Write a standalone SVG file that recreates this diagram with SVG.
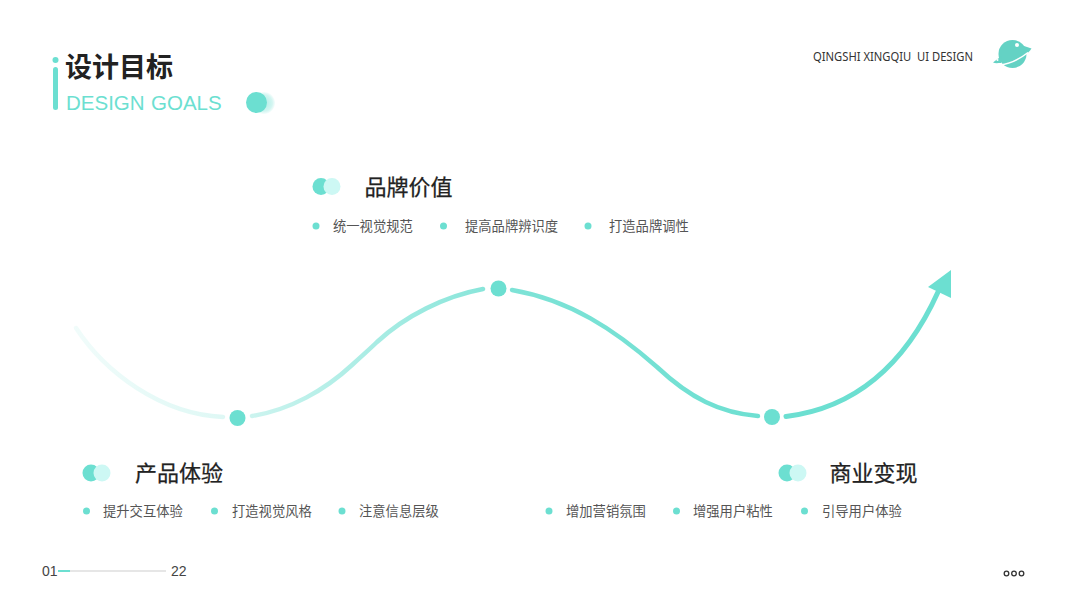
<svg xmlns="http://www.w3.org/2000/svg" width="1067" height="600" viewBox="0 0 1067 600">
<style>
text{font-family:"Noto Sans CJK SC","Noto Sans",sans-serif}
.h{font-size:22px;fill:#222;font-weight:400;stroke:#222;stroke-width:.25}
.t{font-size:13.3px;fill:#555}
.b{fill:#6cdfd1}
.d{fill:#6cdfd1}
.en{font-family:"Liberation Sans",Arial,sans-serif}
</style>
<defs>
<linearGradient id="g" gradientUnits="userSpaceOnUse" x1="76" y1="0" x2="786" y2="0">
<stop offset="0" stop-color="#6cdfd1" stop-opacity=".1"/>
<stop offset="0.207" stop-color="#6cdfd1" stop-opacity=".22"/>
<stop offset="0.248" stop-color="#6cdfd1" stop-opacity=".35"/>
<stop offset="0.573" stop-color="#6cdfd1" stop-opacity=".8"/>
<stop offset="0.614" stop-color="#6cdfd1" stop-opacity=".88"/>
<stop offset="1" stop-color="#6cdfd1"/>
</linearGradient>
<radialGradient id="halo"><stop offset="0" stop-color="#6cdfd1" stop-opacity=".55"/><stop offset=".75" stop-color="#6cdfd1" stop-opacity=".3"/><stop offset="1" stop-color="#6cdfd1" stop-opacity=".06"/></radialGradient>
</defs>
<rect width="1067" height="600" fill="#fff"/>
<g id="title">
<circle class="b" cx="55.500" cy="60" r="3"/>
<rect class="b" x="53" y="67" width="5" height="43" rx="2.500"/>
<text x="65" y="77" style="font-size:27px;font-weight:700;fill:#222">设计目标</text>
<text y="110" class="en" style="font-size:20.500px;fill:#6cdfd1"><tspan x="66">DESIGN</tspan><tspan x="151">GOALS</tspan></text>
<circle cx="264" cy="103" r="11" fill="url(#halo)"/>
<circle class="b" cx="256.500" cy="102.500" r="10.500"/>
</g>
<g id="brand">
<text x="813" y="60.500" xml:space="preserve" textLength="160" lengthAdjust="spacingAndGlyphs" style="font-size:12.500px;fill:#333;font-family:'Noto Sans',sans-serif">QINGSHI XINGQIU  UI DESIGN</text>
<g id="planet" fill="#64d2c4">
<circle cx="1012.500" cy="54" r="14"/>
<path d="M993 62.500C996 60 999 58 1002 56L1001 63C998 63 995 63.500 993 62.500Z"/>
<path d="M1024 46L1031.500 48.500C1030 51 1027 54 1023 56Z"/>
<path d="M1000 65C1010 64 1021 58 1028 52.500" fill="none" stroke="#fff" stroke-width="1.500"/>
<circle cx="1017" cy="45" r="2" fill="#fff"/>
<circle cx="997.500" cy="60" r="1" fill="#fff"/>
</g>
</g>
<g id="connectors" fill="none" stroke="url(#g)" stroke-width="4.500" stroke-linecap="round">
<path d="M76 328C105 372 160 414 223 417"/>
<path d="M252 416C290 410 325 390 352 365C365 353 372 347 377 342C405 316 445 296 483 289"/>
<path d="M512 290C570 300 615 330 657 367C690 398 720 413 758 416"/>
<path d="M786 416.500C855 408 905 365 938 292" stroke="#6cdfd1" stroke-width="5"/>
<polygon class="b" points="951,270 951,298 928,287" stroke="none"/>
</g>
<g id="point-1"><circle class="b" cx="237.500" cy="418" r="8"/></g>
<g id="point-2"><circle class="b" cx="498.500" cy="288.500" r="8"/></g>
<g id="point-3"><circle class="b" cx="772" cy="417" r="8"/></g>
<g id="node-brand-value">
<circle class="b" cx="321" cy="186.500" r="8.500"/>
<circle cx="332" cy="186.500" r="8.500" fill="#cdf8f4"/>
<text x="364.500" y="195" class="h">品牌价值</text>
<circle class="d" cx="316" cy="226" r="3.500"/><text x="333" y="231" class="t">统一视觉规范</text>
<circle class="d" cx="443.500" cy="226" r="3.500"/><text x="465" y="231" class="t">提高品牌辨识度</text>
<circle class="d" cx="588" cy="226" r="3.500"/><text x="609" y="231" class="t">打造品牌调性</text>
</g>
<g id="node-product-experience">
<circle class="b" cx="91" cy="473" r="8.500"/>
<circle cx="102" cy="473" r="8.500" fill="#cdf8f4"/>
<text x="135" y="481" class="h">产品体验</text>
<circle class="d" cx="86.500" cy="511" r="3.500"/><text x="103" y="516" class="t">提升交互体验</text>
<circle class="d" cx="214.500" cy="511" r="3.500"/><text x="232" y="516" class="t">打造视觉风格</text>
<circle class="d" cx="342" cy="511" r="3.500"/><text x="359" y="516" class="t">注意信息层级</text>
</g>
<g id="node-monetization">
<circle class="b" cx="787" cy="473" r="8.500"/>
<circle cx="798" cy="473" r="8.500" fill="#cdf8f4"/>
<text x="829.500" y="481" class="h">商业变现</text>
<circle class="d" cx="549" cy="511" r="3.500"/><text x="566" y="516" class="t">增加营销氛围</text>
<circle class="d" cx="676.500" cy="511" r="3.500"/><text x="693" y="516" class="t">增强用户粘性</text>
<circle class="d" cx="804.500" cy="511" r="3.500"/><text x="822" y="516" class="t">引导用户体验</text>
</g>
<g id="footer">
<text x="42" y="576" class="en" style="font-size:14px;fill:#444">01</text>
<rect x="58" y="570" width="108" height="2" fill="#e6e6e6"/>
<rect x="58" y="570" width="12" height="2" fill="#6cdfd1"/>
<text x="171" y="576" class="en" style="font-size:14px;fill:#444">22</text>
<g fill="none" stroke="#333" stroke-width="1.300"><circle cx="1006.500" cy="573.500" r="2.300"/><circle cx="1014" cy="573.500" r="2.300"/><circle cx="1021.500" cy="573.500" r="2.300"/></g>
</g>
</svg>
